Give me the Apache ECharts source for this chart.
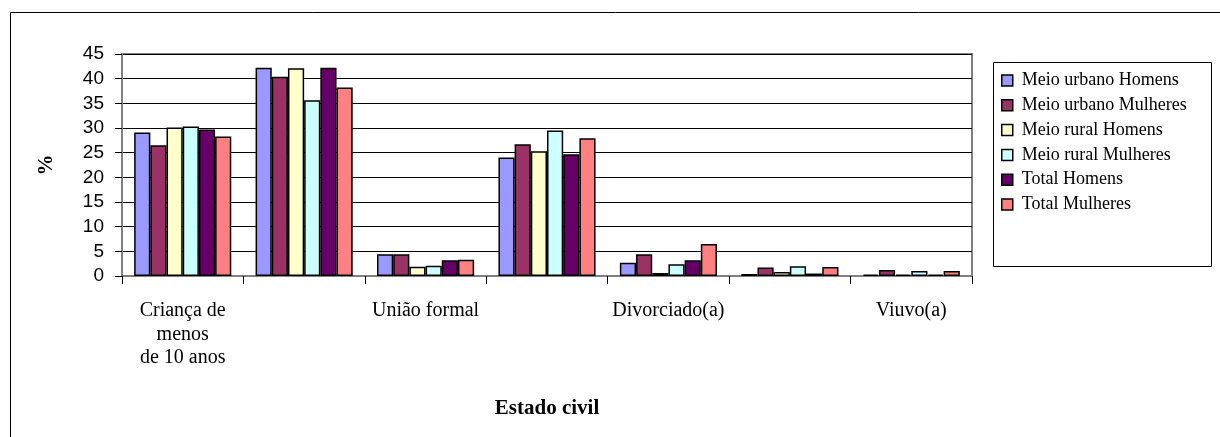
<!DOCTYPE html>
<html><head><meta charset="utf-8">
<script src="https://cdn.jsdelivr.net/npm/echarts@6/dist/echarts.min.js"></script>
<style>html,body{margin:0;padding:0;background:#fff}#c{width:1220px;height:437px}</style>
</head><body><div id="c"></div>
<script>
const categories = ["Criança de\nmenos\nde 10 anos", "Solteiro(a)", "União formal", "União de facto", "Divorciado(a)", "Separado(a)", "Viuvo(a)"];
const seriesNames = ["Meio urbano Homens", "Meio urbano Mulheres", "Meio rural Homens", "Meio rural Mulheres", "Total Homens", "Total Mulheres"];
const urbanoHomens   = [29.1, 42.2, 4.4, 24.0, 2.7, 0.4, 0.3];
const urbanoMulheres = [26.5, 40.4, 4.4, 26.7, 4.4, 1.7, 1.2];
const ruralHomens    = [30.1, 42.1, 1.9, 25.3, 0.6, 0.8, 0.3];
const ruralMulheres  = [30.3, 35.6, 2.1, 29.5, 2.4, 2.0, 1.0];
const totalHomens    = [29.7, 42.2, 3.2, 24.7, 3.2, 0.5, 0.3];
const totalMulheres  = [28.3, 38.2, 3.3, 27.9, 6.5, 1.8, 1.0];
const yTicks = [0, 5, 10, 15, 20, 25, 30, 35, 40, 45];
const colors = ["#9999FF", "#993366", "#FFFFCC", "#CCFFFF", "#660066", "#FF8080"];

const allData = [urbanoHomens, urbanoMulheres, ruralHomens, ruralMulheres, totalHomens, totalMulheres];
const chart = echarts.init(document.getElementById('c'), null, {renderer: 'canvas'});
chart.setOption({
  animation: false,
  backgroundColor: '#fff',
  color: colors,
  grid: {left: 122, top: 54, width: 850, height: 222, show: true, borderColor: '#808080', borderWidth: 2, backgroundColor: '#fff'},
  legend: {
    orient: 'vertical', left: 1001, top: 71, padding: 0, itemWidth: 11, itemHeight: 11, itemGap: 5.8,
    icon: 'rect',
    data: seriesNames,
    itemStyle: {borderColor: '#000', borderWidth: 1.5},
    textStyle: {fontFamily: 'Liberation Serif', fontSize: 18, color: '#000', lineHeight: 19, padding: [0, 0, 0, 4]}
  },
  xAxis: {
    type: 'category', data: categories,
    axisLine: {lineStyle: {color: '#808080', width: 2}},
    axisTick: {show: true, interval: 0, length: 8, lineStyle: {color: '#000', width: 1}},
    axisLabel: {interval: 1, fontFamily: 'Liberation Serif', fontSize: 20, color: '#000', lineHeight: 23.5, margin: 23},
    name: 'Estado civil', nameLocation: 'middle', nameGap: 122,
    nameTextStyle: {fontFamily: 'Liberation Serif', fontSize: 21, fontWeight: 'bold', color: '#000'}
  },
  yAxis: {
    type: 'value', min: yTicks[0], max: yTicks[yTicks.length - 1], interval: 5,
    axisLine: {show: true, lineStyle: {color: '#808080', width: 2}},
    axisTick: {show: true, inside: false, length: 7, lineStyle: {color: '#000'}},
    axisLabel: {fontFamily: 'Liberation Sans', fontSize: 19, color: '#000', margin: 18},
    splitLine: {lineStyle: {color: '#000', width: 1}}
  },
  graphic: [
    {type: 'rect', shape: {x: 10.5, y: 12.5, width: 1230, height: 440}, style: {fill: 'none', stroke: '#000', lineWidth: 1}, z: -10},
    {type: 'rect', shape: {x: 993.5, y: 62.5, width: 218, height: 204}, style: {fill: 'none', stroke: '#000', lineWidth: 1}},
    {type: 'text', x: 47, y: 165, rotation: Math.PI / 2, style: {text: '%', fontFamily: 'Liberation Serif', fontSize: 21, fontWeight: 'bold', fill: '#000', textAlign: 'center', textVerticalAlign: 'middle'}}
  ],
  series: seriesNames.map((n, i) => ({
    name: n, type: 'bar', data: allData[i],
    barGap: '0%', barCategoryGap: '20%',
    itemStyle: {color: colors[i], borderColor: '#000', borderWidth: 1.5}
  }))
});
</script></body></html>
